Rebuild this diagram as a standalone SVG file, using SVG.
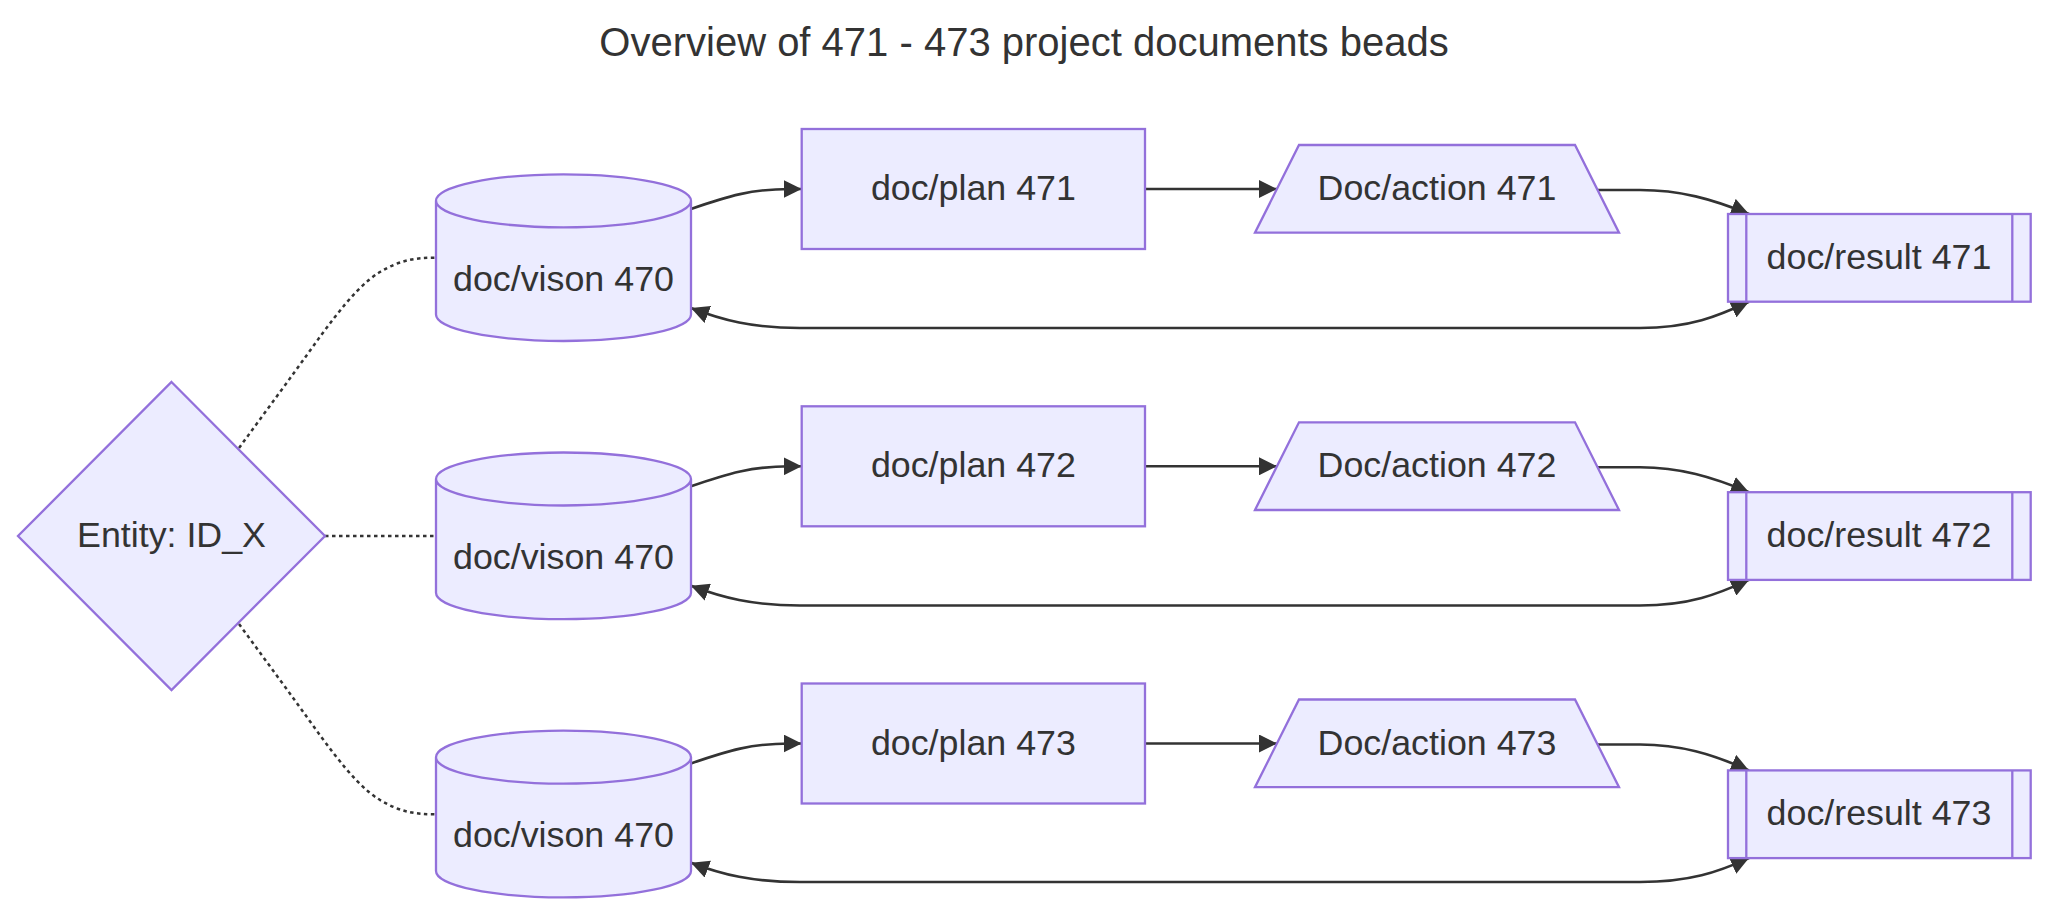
<svg xmlns="http://www.w3.org/2000/svg" width="2048" height="915" viewBox="0 0 2048 915">
<style>
.node{fill:#ECECFF;stroke:#9370DB;stroke-width:2.3}
.lbl{font-family:"Liberation Sans",Arial,sans-serif;font-size:35.8px;fill:#333333;text-anchor:middle}
.title{font-family:"Liberation Sans",Arial,sans-serif;font-size:40px;fill:#333333;text-anchor:middle}
.edge{fill:none;stroke:#333333;stroke-width:2.6}
.dot{fill:none;stroke:#333333;stroke-width:2.5;stroke-dasharray:3.5 3.5}
</style>
<defs>
<marker id="arr" viewBox="0 0 10 10" refX="10" refY="5" markerUnits="userSpaceOnUse" markerWidth="18" markerHeight="18" orient="auto-start-reverse">
<path d="M0,0 L10,5 L0,10 z" fill="#333333"/>
</marker>
</defs>
<rect width="2048" height="915" fill="#ffffff"/>
<text class="title" x="1024" y="56">Overview of 471 - 473 project documents beads</text>

<g id="connectors">
<path class="dot" d="M239,448 L280,392 C320,338 350,290 380,272 C400,260 415,257.7 436,257.7"/>
<path class="dot" d="M325,536 L436,536"/>
<path class="dot" d="M239,624 L280,680 C320,734 350,782 380,800 C400,812 415,814.3 436,814.3"/>

<path class="edge" marker-end="url(#arr)" d="M691,209 C728,196 752,189 790,189 L801.7,189"/>
<path class="edge" marker-end="url(#arr)" d="M1145,189 L1277,189"/>
<path class="edge" marker-end="url(#arr)" d="M1598,190 L1640,190 C1680,190 1712,199 1749,214"/>
<path class="edge" marker-start="url(#arr)" marker-end="url(#arr)" d="M691,308 C722,320 752,328 800,328 L1640,328 C1690,328 1718,316 1749,301.7"/>

<path class="edge" marker-end="url(#arr)" d="M691,486.3 C728,473.3 752,466.3 790,466.3 L801.7,466.3"/>
<path class="edge" marker-end="url(#arr)" d="M1145,466.3 L1277,466.3"/>
<path class="edge" marker-end="url(#arr)" d="M1598,467.3 L1640,467.3 C1680,467.3 1712,477 1749,492.2"/>
<path class="edge" marker-start="url(#arr)" marker-end="url(#arr)" d="M691,585.8 C722,597.5 752,605.5 800,605.5 L1640,605.5 C1690,605.5 1718,594 1749,579.9"/>

<path class="edge" marker-end="url(#arr)" d="M691,763.5 C728,750.5 752,743.5 790,743.5 L801.7,743.5"/>
<path class="edge" marker-end="url(#arr)" d="M1145,743.5 L1277,743.5"/>
<path class="edge" marker-end="url(#arr)" d="M1598,744.5 L1640,744.5 C1680,744.5 1712,754 1749,770.4"/>
<path class="edge" marker-start="url(#arr)" marker-end="url(#arr)" d="M691,862.7 C722,874.5 752,882 800,882 L1640,882 C1690,882 1718,872 1749,858.1"/>
</g>

<g id="entity">
<polygon class="node" points="171.5,382 325,536 171.5,690 18,536"/>
<text class="lbl" x="171.5" y="547">Entity: ID_X</text>
</g>

<g id="vision1">
<path class="node" d="M436,200.8 a127.5,26.5 0 0 0 255,0 a127.5,26.5 0 0 0 -255,0 l0,113.7 a127.5,26.5 0 0 0 255,0 l0,-113.7"/>
<text class="lbl" x="563.5" y="290.7">doc/vison 470</text>
</g>
<g id="vision2">
<path class="node" d="M436,479 a127.5,26.5 0 0 0 255,0 a127.5,26.5 0 0 0 -255,0 l0,113.7 a127.5,26.5 0 0 0 255,0 l0,-113.7"/>
<text class="lbl" x="563.5" y="568.9">doc/vison 470</text>
</g>
<g id="vision3">
<path class="node" d="M436,757.2 a127.5,26.5 0 0 0 255,0 a127.5,26.5 0 0 0 -255,0 l0,113.7 a127.5,26.5 0 0 0 255,0 l0,-113.7"/>
<text class="lbl" x="563.5" y="847.1">doc/vison 470</text>
</g>

<g id="plan471">
<rect class="node" x="801.7" y="129" width="343.3" height="120"/>
<text class="lbl" x="973.4" y="200">doc/plan 471</text>
</g>
<g id="plan472">
<rect class="node" x="801.7" y="406.3" width="343.3" height="120"/>
<text class="lbl" x="973.4" y="477.3">doc/plan 472</text>
</g>
<g id="plan473">
<rect class="node" x="801.7" y="683.5" width="343.3" height="120"/>
<text class="lbl" x="973.4" y="754.5">doc/plan 473</text>
</g>

<g id="action471">
<polygon class="node" points="1299,145 1575,145 1619,232.7 1255,232.7"/>
<text class="lbl" x="1437" y="200">Doc/action 471</text>
</g>
<g id="action472">
<polygon class="node" points="1299,422.3 1575,422.3 1619,510 1255,510"/>
<text class="lbl" x="1437" y="477.3">Doc/action 472</text>
</g>
<g id="action473">
<polygon class="node" points="1299,699.5 1575,699.5 1619,787.2 1255,787.2"/>
<text class="lbl" x="1437" y="754.5">Doc/action 473</text>
</g>

<g id="result471">
<rect class="node" x="1728" y="214" width="302.7" height="87.7"/>
<path class="node" d="M1746.3,214 V301.7 M2012.3,214 V301.7"/>
<text class="lbl" x="1879" y="269">doc/result 471</text>
</g>
<g id="result472">
<rect class="node" x="1728" y="492.2" width="302.7" height="87.7"/>
<path class="node" d="M1746.3,492.2 V579.9 M2012.3,492.2 V579.9"/>
<text class="lbl" x="1879" y="547.2">doc/result 472</text>
</g>
<g id="result473">
<rect class="node" x="1728" y="770.4" width="302.7" height="87.7"/>
<path class="node" d="M1746.3,770.4 V858.1 M2012.3,770.4 V858.1"/>
<text class="lbl" x="1879" y="825.4">doc/result 473</text>
</g>
</svg>
